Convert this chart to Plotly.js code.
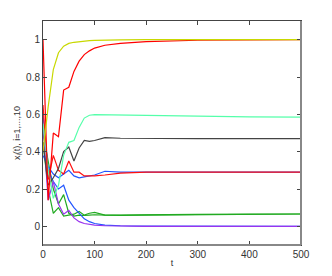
<!DOCTYPE html>
<html><head><meta charset="utf-8">
<script src="https://cdn.plot.ly/plotly-3.0.1.min.js"></script>
<style>html,body{margin:0;padding:0;background:#fff}#c{width:332px;height:276px}</style>
</head><body><div id="c"></div>
<script>
var t = [0,10,20,30,40,50,60,70,80,90,100,120,150,200,300,400,500];
var yellowGreen = [0.40,0.64,0.84,0.93,0.965,0.98,0.986,0.99,0.993,0.995,0.996,0.998,0.999,1.0,1.0,1.0,1.0];
var redHigh = [1.0,0.14,0.50,0.48,0.73,0.745,0.83,0.885,0.92,0.94,0.955,0.97,0.98,0.99,0.997,0.999,1.0];
var aqua = [0.55,0.30,0.15,0.22,0.38,0.45,0.46,0.53,0.58,0.595,0.598,0.597,0.595,0.592,0.588,0.586,0.585];
var gray = [0.45,0.22,0.26,0.31,0.40,0.425,0.35,0.42,0.46,0.455,0.46,0.475,0.472,0.47,0.47,0.47,0.47];
var redMid = [0.65,0.25,0.38,0.30,0.28,0.35,0.29,0.29,0.27,0.27,0.27,0.275,0.285,0.29,0.29,0.29,0.29];
var blueMid = [0.38,0.32,0.28,0.26,0.28,0.30,0.27,0.26,0.265,0.27,0.275,0.295,0.29,0.29,0.29,0.29,0.29];
var greenA = [0.45,0.20,0.07,0.10,0.055,0.058,0.065,0.08,0.06,0.07,0.075,0.06,0.058,0.06,0.063,0.065,0.066];
var greenB = [0.50,0.35,0.20,0.12,0.17,0.07,0.055,0.06,0.058,0.06,0.062,0.06,0.06,0.062,0.064,0.065,0.066];
var blueLow = [0.60,0.30,0.24,0.20,0.22,0.14,0.10,0.07,0.04,0.025,0.015,0.007,0.003,0.001,0,0,0];
var purple = [0.55,0.14,0.24,0.12,0.065,0.085,0.045,0.025,0.015,0.01,0.006,0.003,0.001,0,0,0,0];

var series = [
  [greenB,'#22aa22'],[greenA,'#22aa22'],[blueLow,'#2255ff'],[purple,'#9933ee'],
  [blueMid,'#2255ff'],[redMid,'#ff1010'],[gray,'#444444'],[aqua,'#55ffaa'],
  [redHigh,'#ff0000'],[yellowGreen,'#c8d800']
];
var data = series.map(function(s){return {x:t,y:s[0],type:'scatter',mode:'lines',line:{color:s[1],width:1.2},hoverinfo:'skip'};});

var ax = {showline:true,mirror:'ticks',linecolor:'#444',linewidth:1,ticks:'inside',ticklen:4,tickcolor:'#444',
  showgrid:false,zeroline:false,tickfont:{family:'Liberation Sans, Arial, sans-serif',size:10,color:'#333'}};
var layout = {
  width:332,height:276,margin:{l:43,r:31,t:21,b:31},
  paper_bgcolor:'#fff',plot_bgcolor:'#fff',showlegend:false,
  xaxis:Object.assign({},ax,{range:[0,500],tickvals:[0,100,200,300,400,500],
    title:{text:'t',font:{family:'Liberation Sans, Arial, sans-serif',size:9,color:'#333'},standoff:0}}),
  yaxis:Object.assign({},ax,{range:[-0.1,1.1],tickvals:[0,0.2,0.4,0.6,0.8,1],ticktext:['0','0.2','0.4','0.6','0.8','1'],
    title:{text:'x<sub>i</sub>(t), i=1,...,10',font:{family:'Liberation Sans, Arial, sans-serif',size:9,color:'#333'},standoff:3}}),
  shapes:[
    {type:'line',xref:'paper',yref:'paper',x0:1,x1:1,y0:0,y1:1,line:{color:'#888',width:2}},
    {type:'line',xref:'paper',yref:'paper',x0:0,x1:1,y0:0,y1:0,line:{color:'#888',width:2}}
  ]
};
Plotly.newPlot('c',data,layout,{staticPlot:true,displayModeBar:false});
</script></body></html>
